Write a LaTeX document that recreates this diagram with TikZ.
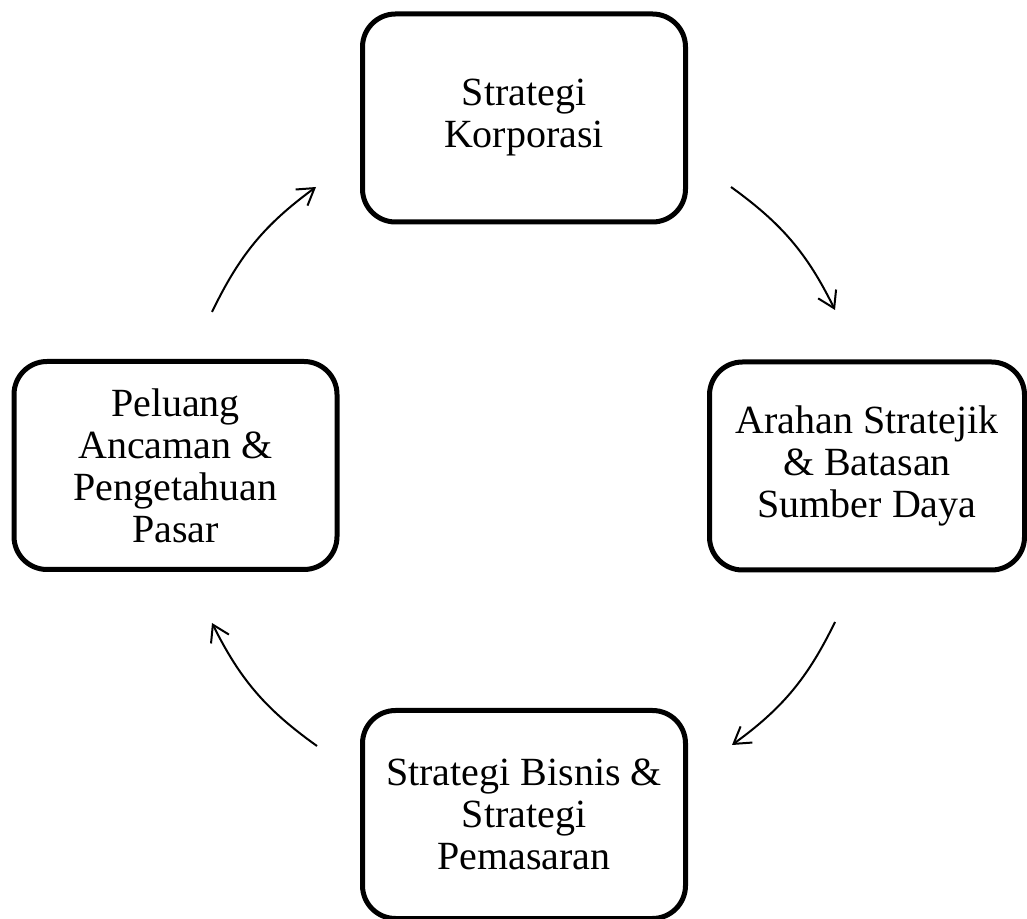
\documentclass[tikz,border=0pt]{standalone}
\usepackage{fontspec}
\setmainfont{Liberation Serif}
\usetikzlibrary{positioning,arrows.meta}

\begin{document}
\begin{tikzpicture}[x=1pt, y=1pt,
stagebox/.style={rectangle, rounded corners=33pt, draw=black, line width=5pt, align=center, inner sep=0pt, minimum width=323pt, minimum height=208pt, font=\fontsize{40}{42}\selectfont},
cyclearrow/.style={-{Straight Barb[length=16pt, width=20pt]}, line width=2pt, bend left=14},
]
\useasboundingbox (0,0) rectangle (1027,918);
%Nodes
\node[stagebox]      (korporasi)     at (524,800)    {Strategi\\Korporasi};
\node[stagebox, minimum width=315pt]      (arahan)     at (867,452)    {Arahan Stratejik\\\& Batasan\\Sumber Daya};
\node[stagebox]      (bisnis)     at (524,103.5)    {Strategi Bisnis \&\\Strategi\\Pemasaran};
\node[stagebox]      (peluang)     at (175.5,452.5)    {Peluang\\Ancaman \&\\Pengetahuan\\Pasar};

%Arrow ends
\coordinate (korporasiout) at (731,731);
\coordinate (arahanin)     at (835,608);
\coordinate (arahanout)    at (835,296);
\coordinate (bisnisin)     at (732,173);
\coordinate (bisnisout)    at (317,172);
\coordinate (peluangin)    at (212,295);
\coordinate (peluangout)   at (212,606);
\coordinate (korporasiin)  at (316,731);

%Lines
\draw[cyclearrow] (korporasiout) to (arahanin);
\draw[cyclearrow] (arahanout) to (bisnisin);
\draw[cyclearrow] (bisnisout) to (peluangin);
\draw[cyclearrow] (peluangout) to (korporasiin);
\end{tikzpicture}
\end{document}
